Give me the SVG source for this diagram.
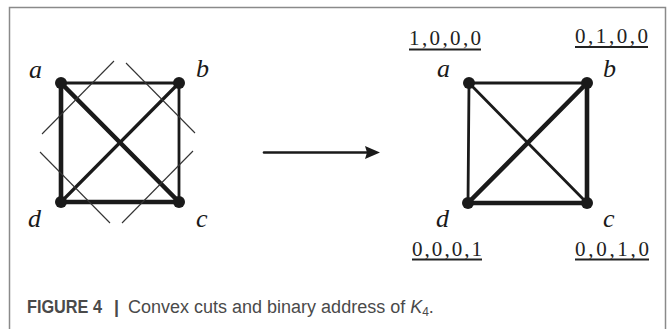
<svg xmlns="http://www.w3.org/2000/svg" width="667" height="329" viewBox="0 0 667 329">
<style>
.frame{fill:none;stroke:#8a8a8a;stroke-width:1.5}
.e{stroke:#1a1a1a;stroke-linecap:round;fill:none}
.thin{stroke-width:2.8}
.mid{stroke-width:3.2}
.thick{stroke-width:4.6}
.cut{stroke:#333;stroke-width:1.1;fill:none}
.node{fill:#1a1a1a}
.lbl{font-family:"Liberation Serif",serif;font-style:italic;font-size:26px;fill:#1a1a1a}
.addr{font-family:"Liberation Serif",serif;font-size:21px;fill:#222}
.ul{stroke:#222;stroke-width:2}
.cap{font-family:"Liberation Sans",Arial,sans-serif;font-size:18px;fill:#4a4a4a}
</style>
<rect width="667" height="329" fill="#fff"/>
<path class="frame" d="M9.5,335 V7.5 H665.5 V335"/>
<g id="connectors">
  <line class="e thin" x1="61" y1="83" x2="179" y2="83"/>
  <line class="e thin" x1="179" y1="83" x2="179" y2="202"/>
  <line class="e thick" x1="61" y1="83" x2="61" y2="202"/>
  <line class="e thick" x1="61" y1="202" x2="179" y2="202"/>
  <line class="e thick" x1="61" y1="83" x2="179" y2="202"/>
  <line class="e mid" x1="179" y1="83" x2="61" y2="202"/>
  <line class="cut" x1="114" y1="61" x2="42" y2="134"/>
  <line class="cut" x1="126" y1="63" x2="195" y2="133"/>
  <line class="cut" x1="40" y1="152" x2="110" y2="223"/>
  <line class="cut" x1="122" y1="223" x2="193" y2="151"/>
  <line class="e thin" x1="469" y1="83" x2="587" y2="83"/>
  <line class="e thin" x1="469" y1="83" x2="468" y2="203"/>
  <line class="e thin" x1="469" y1="83" x2="587" y2="203"/>
  <line class="e thick" x1="587" y1="83" x2="587" y2="203"/>
  <line class="e thick" x1="468" y1="203" x2="587" y2="203"/>
  <line class="e thick" x1="587" y1="83" x2="468" y2="203"/>
  <line class="e" stroke-width="2.6" stroke-linecap="butt" x1="264" y1="152.5" x2="368" y2="152.5"/>
  <polygon fill="#1a1a1a" points="380,152.5 365,146 367,152.5 365,159"/>
</g>
<g id="left-a"><circle class="node" cx="61" cy="83" r="6"/><text class="lbl" x="29" y="78">a</text></g>
<g id="left-b"><circle class="node" cx="179" cy="83" r="6"/><text class="lbl" x="196" y="77">b</text></g>
<g id="left-c"><circle class="node" cx="179" cy="202" r="6"/><text class="lbl" x="196" y="227">c</text></g>
<g id="left-d"><circle class="node" cx="61" cy="202" r="6"/><text class="lbl" x="28" y="227">d</text></g>
<g id="right-a"><circle class="node" cx="469" cy="83" r="6"/><text class="lbl" x="437" y="77">a</text>
  <text class="addr" x="409" y="45" textLength="72" lengthAdjust="spacing">1,0,0,0</text><line class="ul" x1="409" y1="49.5" x2="481" y2="49.5"/></g>
<g id="right-b"><circle class="node" cx="587" cy="83" r="6"/><text class="lbl" x="603" y="77">b</text>
  <text class="addr" x="575" y="43" textLength="73" lengthAdjust="spacing">0,1,0,0</text><line class="ul" x1="575" y1="47" x2="648" y2="47"/></g>
<g id="right-c"><circle class="node" cx="587" cy="203" r="6"/><text class="lbl" x="603" y="227">c</text>
  <text class="addr" x="575" y="256" textLength="74" lengthAdjust="spacing">0,0,1,0</text><line class="ul" x1="575" y1="259.5" x2="649" y2="259.5"/></g>
<g id="right-d"><circle class="node" cx="468" cy="203" r="6"/><text class="lbl" x="436" y="227">d</text>
  <text class="addr" x="412" y="256" textLength="70" lengthAdjust="spacing">0,0,0,1</text><line class="ul" x1="412" y1="259.5" x2="482" y2="259.5"/></g>
<g id="caption">
  <text class="cap" x="27" y="313" font-weight="bold" fill="#222" font-size="19" textLength="75" lengthAdjust="spacingAndGlyphs">FIGURE 4</text>
  <text class="cap" x="114" y="313" fill="#222" font-weight="bold" font-size="19">|</text>
  <text class="cap" x="128" y="313">Convex cuts and binary address of <tspan font-style="italic">K</tspan><tspan font-size="12" dy="3">4</tspan><tspan dy="-3">.</tspan></text>
</g>
</svg>
